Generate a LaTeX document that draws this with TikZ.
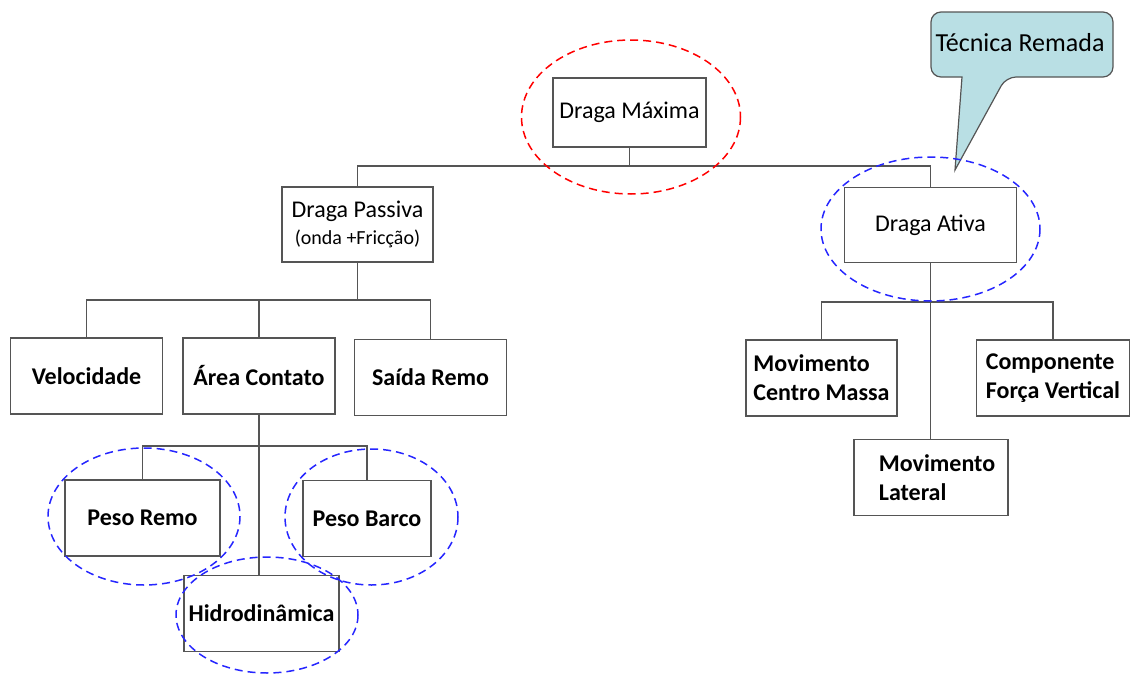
\documentclass[tikz,border=0pt]{standalone}
\usepackage{fontspec}
\setmainfont{Carlito}
\definecolor{linegray}{RGB}{85,85,85}
\definecolor{calloutfill}{RGB}{185,223,228}

\begin{document}
\begin{tikzpicture}[x=0.5pt,y=-0.5pt,
  box/.style={draw=linegray, line width=0.9pt, minimum width=76pt, minimum height=38pt, inner sep=2pt, font=\fontsize{12}{14.5}\selectfont},
  bbox/.style={box, font=\fontsize{12}{14.5}\selectfont\bfseries},
  link/.style={draw=linegray, line width=0.8pt},
  redring/.style={draw=red, dash pattern=on 4pt off 2.5pt, line width=0.75pt},
  bluering/.style={draw=blue!85, dash pattern=on 4pt off 2.5pt, line width=0.75pt}]

\useasboundingbox (0,0) rectangle (1131,675);

\node[box, minimum width=76.5pt, minimum height=34.5pt] (dmax) at (629.5,112.5) {Draga Máxima};
\node[box, minimum width=75.5pt, minimum height=37.5pt, align=center] (dpas) at (357.5,224.5) {Draga Passiva\\[-1pt]{\fontsize{10}{12}\selectfont(onda +Fricção)}};
\node[box, minimum width=86pt, minimum height=37.5pt] (dati) at (930.5,225) {Draga Ativa};

\node[bbox] (vel) at (86.5,376) {Velocidade};
\node[bbox] (area) at (259,376) {Área Contato};
\node[bbox] (saida) at (430.5,377.5) {Saída Remo};

\node[bbox, minimum width=77.5pt] (premo) at (142.5,518) {Peso Remo};
\node[bbox, minimum width=64pt] (pbarco) at (367,518.5) {Peso Barco};
\node[bbox, minimum width=77.5pt] (hidro) at (261.5,613.5) {Hidrodinâmica};

\node[bbox, align=left, minimum width=75.5pt] (mcm) at (821.5,378) {Movimento\\Centro Massa};
\node[bbox, align=left, minimum width=76.5pt] (cfv) at (1053,378) {Componente\\Força Vertical};
\node[bbox, align=left, minimum width=77pt] (lat) at (931,477.5) {\hspace*{6pt}Movimento\\\hspace*{6pt}Lateral};

\coordinate (j0) at (629.5,166);
\draw[link] (dmax.south) -- (j0);
\draw[link] (dpas.north) |- (j0) -| (dati.north);

\coordinate (j1) at (357.5,300);
\draw[link] (dpas.south) -- (j1);
\draw[link] (vel.north) |- (j1) -| (saida.north);
\draw[link] (area.north) -- (area.north |- j1);

\coordinate (j2) at (259,446);
\draw[link] (area.south) -- (area.south |- hidro.north);
\draw[link] (premo.north) |- (j2) -| (pbarco.north);

\coordinate (j3) at (930.5,302);
\draw[link] (dati.south) -- (dati.south |- lat.north);
\draw[link] (mcm.north) |- (j3) -| (cfv.north);

\path[draw=linegray, fill=calloutfill, line width=0.6pt, rounded corners=5pt] (931,44) -- (931,12) -- (1113,12) -- (1113,77) -- (1006,77) [sharp corners] -- (955,170) -- (962,77) [rounded corners=5pt] -- (931,77) -- cycle;
\node[font=\fontsize{13}{15}\selectfont] (tec) at (1020,43) {Técnica Remada};

\draw[redring] (631,117) ellipse [x radius=109.5, y radius=77];
\draw[bluering] (930.5,229) ellipse [x radius=109.5, y radius=72];
\draw[bluering] (144,516.5) ellipse [x radius=96, y radius=68.5];
\draw[bluering] (371.5,517) ellipse [x radius=86.5, y radius=68];
\draw[bluering] (267,615) ellipse [x radius=91, y radius=58];

\end{tikzpicture}
\end{document}
